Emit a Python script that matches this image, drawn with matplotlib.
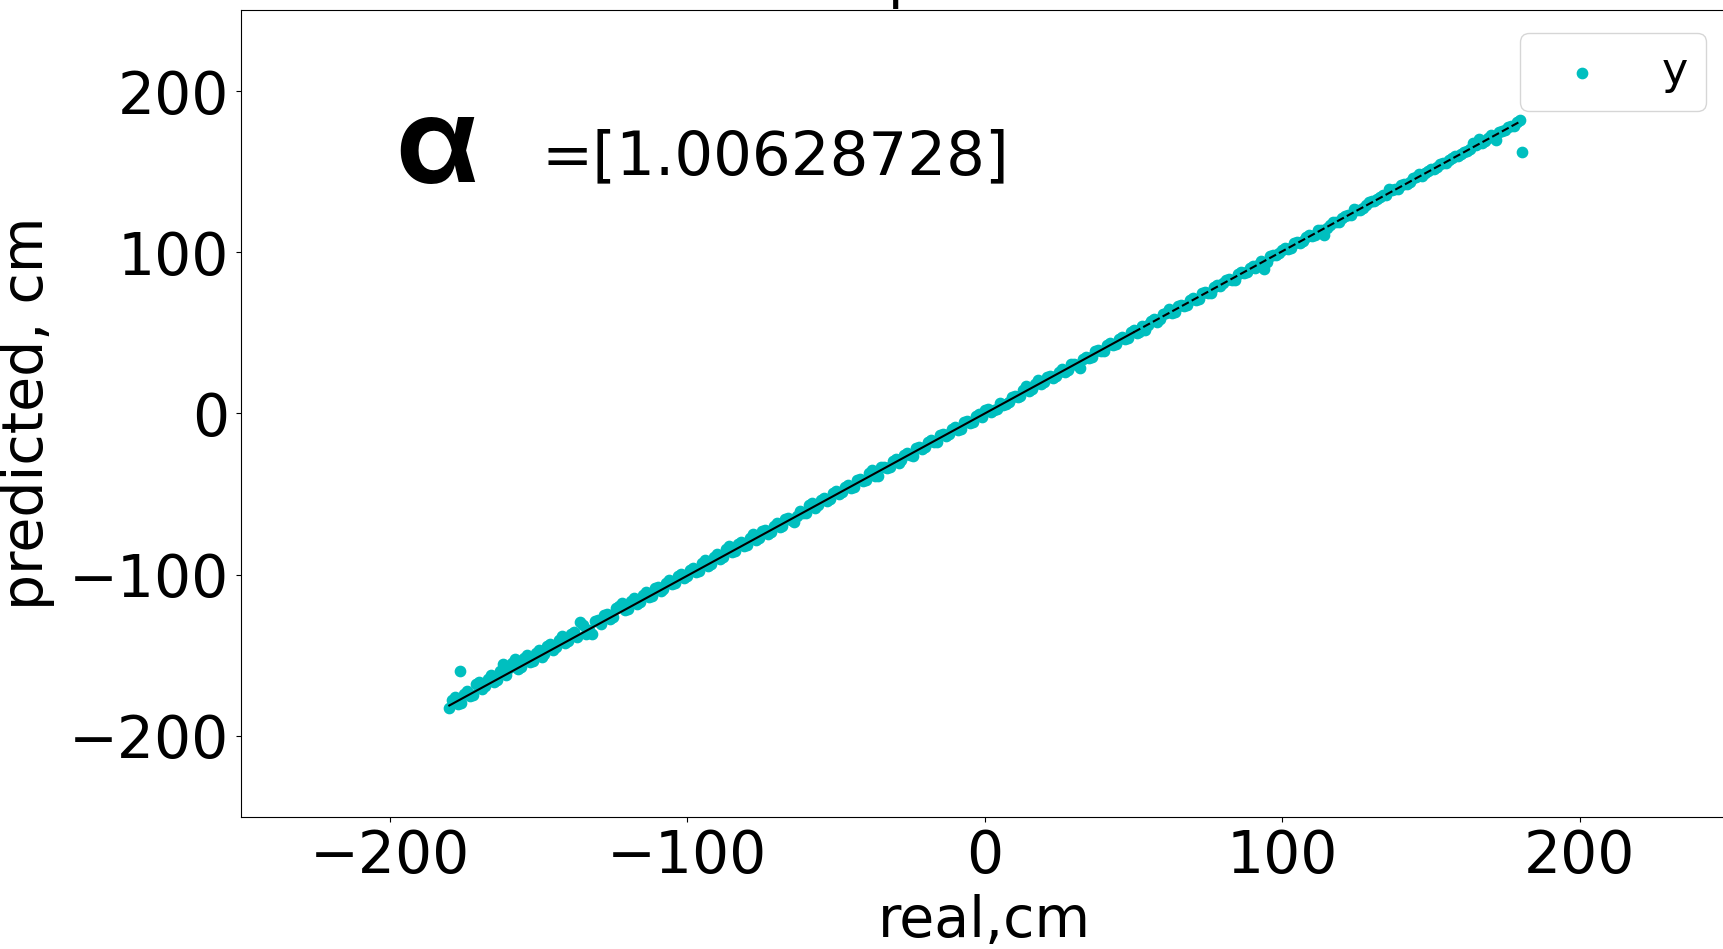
import matplotlib
matplotlib.use("Agg")
import matplotlib.pyplot as plt
import numpy as np

# values
real_even = [
    -180, -178, -176, -174, -172, -170, -168, -166, -164, -162,
    -160, -158, -156, -154, -152, -150, -148, -146, -144, -142,
    -140, -138, -136, -134, -132, -130, -128, -126, -124, -122,
    -120, -118, -116, -114, -112, -110, -108, -106, -104, -102,
    -100, -98, -96, -94, -92, -90, -88, -86, -84, -82,
    -80, -78, -76, -74, -72, -70, -68, -66, -64, -62,
    -60, -58, -56, -54, -52, -50, -48, -46, -44, -42,
    -40, -38, -36, -34, -32, -30, -28, -26, -24, -22,
    -20, -18, -16, -14, -12, -10, -8, -6, -4, -2,
    0, 2, 4, 6, 8, 10, 12, 14, 16, 18,
    20, 22, 24, 26, 28, 30, 32, 34, 36, 38,
    40, 42, 44, 46, 48, 50, 52, 54, 56, 58,
    60, 62, 64, 66, 68, 70, 72, 74, 76, 78,
    80, 82, 84, 86, 88, 90, 92, 94, 96, 98,
    100, 102, 104, 106, 108, 110, 112, 114, 116, 118,
    120, 122, 124, 126, 128, 130, 132, 134, 136, 138,
    140, 142, 144, 146, 148, 150, 152, 154, 156, 158,
    160, 162, 164, 166, 168, 170, 172, 174, 176, 178,
    180,
]
pred_even = [
    -182.5, -176.0, -179.5, -172.0, -174.5, -166.5, -169.0, -162.0, -165.5, -155.5,
    -158.0, -152.0, -157.5, -150.0, -153.5, -147.0, -149.5, -143.0, -145.0, -138.0,
    -141.0, -135.5, -129.5, -136.5, -137.0, -128.0, -125.0, -127.5, -120.5, -117.5,
    -121.0, -114.5, -117.0, -111.0, -113.5, -107.5, -109.0, -103.5, -105.0, -99.5,
    -101.0, -96.0, -97.5, -91.0, -93.5, -87.0, -89.0, -82.0, -85.5, -80.0,
    -81.5, -75.0, -77.0, -72.5, -73.5, -68.0, -69.5, -65.0, -67.5, -60.5,
    -61.5, -55.5, -57.0, -52.5, -53.0, -48.0, -49.0, -44.5, -45.5, -40.5,
    -41.0, -35.0, -38.5, -33.0, -33.5, -28.5, -29.0, -24.5, -26.5, -20.5,
    -21.0, -16.5, -17.5, -12.5, -13.0, -8.5, -9.5, -4.5, -5.0, -0.5,
    2.0, 1.0, 3.0, 5.5, 7.0, 11.0, 11.0, 17.0, 15.0, 21.0,
    19.5, 23.0, 23.0, 27.5, 27.0, 31.0, 28.5, 35.0, 35.0, 39.5,
    39.0, 43.5, 43.0, 47.5, 47.0, 51.5, 50.5, 52.0, 57.5, 57.0,
    62.0, 64.5, 63.0, 67.5, 67.0, 71.5, 71.0, 75.5, 75.0, 79.5,
    81.0, 83.5, 83.0, 87.5, 87.5, 91.5, 92.0, 89.5, 97.5, 98.5,
    101.5, 102.0, 105.5, 106.0, 109.5, 110.0, 113.5, 110.5, 117.0, 119.0,
    121.5, 123.0, 127.0, 126.5, 129.5, 131.5, 133.0, 135.5, 139.0, 139.0,
    141.5, 142.5, 146.0, 148.5, 149.0, 151.5, 153.0, 155.5, 157.0, 159.5,
    161.0, 163.0, 167.5, 170.5, 169.0, 172.5, 169.5, 175.5, 177.5, 178.5,
    182.0,
]
real_odd = [
    -179, -177, -175, -173, -171, -169, -167, -165, -163, -161,
    -159, -157, -155, -153, -151, -149, -147, -145, -143, -141,
    -139, -137, -135, -133, -131, -129, -127, -125, -123, -121,
    -119, -117, -115, -113, -111, -109, -107, -105, -103, -101,
    -99, -97, -95, -93, -91, -89, -87, -85, -83, -81,
    -79, -77, -75, -73, -71, -69, -67, -65, -63, -61,
    -59, -57, -55, -53, -51, -49, -47, -45, -43, -41,
    -39, -37, -35, -33, -31, -29, -27, -25, -23, -21,
    -19, -17, -15, -13, -11, -9, -7, -5, -3, -1,
    1, 3, 5, 7, 9, 11, 13, 15, 17, 19,
    21, 23, 25, 27, 29, 31, 33, 35, 37, 39,
    41, 43, 45, 47, 49, 51, 53, 55, 57, 59,
    61, 63, 65, 67, 69, 71, 73, 75, 77, 79,
    81, 83, 85, 87, 89, 91, 93, 95, 97, 99,
    101, 103, 105, 107, 109, 111, 113, 115, 117, 119,
    121, 123, 125, 127, 129, 131, 133, 135, 137, 139,
    141, 143, 145, 147, 149, 151, 153, 155, 157, 159,
    161, 163, 165, 167, 169, 171, 173, 175, 177, 179,
]
pred_odd = [
    -178.0, -180.5, -174.0, -175.5, -168.0, -171.0, -164.5, -166.5, -160.0, -162.5,
    -155.0, -158.5, -151.5, -154.0, -148.5, -151.0, -144.5, -147.0, -140.5, -142.5,
    -136.5, -138.5, -131.0, -134.5, -129.0, -130.5, -124.5, -126.5, -119.5, -122.0,
    -116.5, -118.0, -112.5, -114.0, -108.5, -110.0, -105.0, -106.0, -101.0, -102.0,
    -97.0, -98.5, -93.0, -94.5, -89.0, -90.5, -84.0, -86.0, -81.0, -82.0,
    -77.0, -78.5, -73.0, -74.5, -69.5, -70.5, -65.5, -66.0, -63.5, -62.0,
    -57.0, -58.5, -53.5, -54.0, -49.5, -50.0, -45.5, -46.5, -41.5, -42.0,
    -37.0, -38.5, -33.5, -34.0, -29.5, -30.5, -25.5, -26.0, -21.5, -22.0,
    -17.5, -18.0, -13.5, -14.0, -9.5, -10.0, -5.5, -6.0, -1.5, -2.0,
    2.5, 2.0, 6.5, 6.0, 10.0, 10.5, 14.5, 14.0, 18.5, 18.0,
    22.5, 22.0, 26.0, 26.0, 30.5, 30.0, 34.0, 34.5, 38.5, 38.5,
    42.5, 42.5, 46.5, 46.5, 50.5, 50.0, 54.5, 55.0, 58.5, 58.5,
    62.5, 62.5, 66.5, 66.5, 70.5, 70.5, 74.5, 74.5, 78.5, 79.0,
    82.5, 82.5, 86.5, 87.0, 90.5, 90.5, 94.5, 94.0, 98.0, 99.5,
    102.5, 102.5, 106.5, 107.0, 110.5, 111.0, 114.0, 115.0, 118.5, 119.0,
    122.5, 123.0, 126.5, 127.5, 131.0, 131.5, 134.5, 135.5, 138.5, 139.5,
    142.5, 143.5, 146.5, 147.5, 150.5, 151.5, 154.5, 155.5, 158.5, 159.5,
    162.5, 164.0, 166.5, 168.0, 171.0, 171.5, 174.5, 176.0, 178.5, 180.5,
]
real_outliers = [-176.5, 180.7]
pred_outliers = [-160.0, 162.3]

alpha = 1.00628728
fit_solid_x = [-180, 50]
fit_dashed_x = [50, 180]

real_cm = real_even + real_odd + real_outliers
predicted_cm = pred_even + pred_odd + pred_outliers

fig = plt.figure(figsize=(17.23, 9.49), dpi=100)
ax = fig.add_axes([0.1399, 0.1396, 0.8633, 0.8494])

ax.scatter(real_cm, predicted_cm, s=55, color="c", label="y", zorder=2)
ax.plot(fit_solid_x, alpha * np.array(fit_solid_x), color="k", lw=1.5, zorder=3)
ax.plot(fit_dashed_x, alpha * np.array(fit_dashed_x), color="k", ls="--", lw=1.5, zorder=3)

ax.set_xlim(-250, 250)
ax.set_ylim(-250, 250)
ax.set_xticks([-200, -100, 0, 100, 200])
ax.set_yticks([-200, -100, 0, 100, 200])
ax.tick_params(labelsize=42, pad=5)
ax.set_xlabel("real,cm", fontsize=41, labelpad=6)
ax.set_ylabel("predicted, cm", fontsize=41, labelpad=10)

ax.text(-198, 143, "α", fontsize=86, fontweight="bold",
        family=["Inter", "DejaVu Sans"], va="baseline")
ax.text(-149, 148.5, "=[%s]" % alpha, fontsize=44, va="baseline")

ax.legend(loc="upper right", fontsize=32)

# the descender of the cut-off title above the plot
fig.text(888 / 1723, 952 / 949, "p", fontsize=41, va="baseline")

fig.savefig("out.png", dpi=100)
